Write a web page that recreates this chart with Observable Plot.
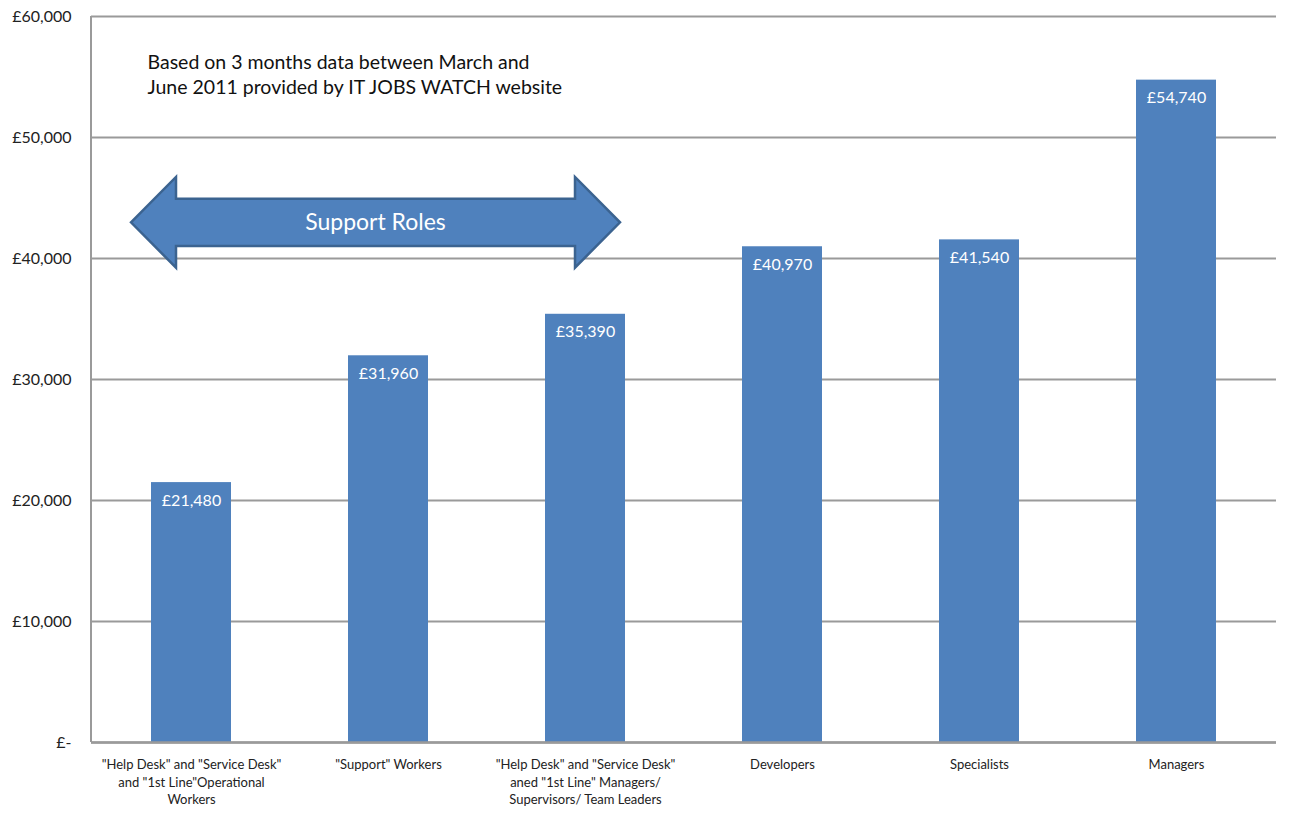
<!DOCTYPE html>
<html>
<head>
<meta charset="utf-8">
<script src="https://cdn.jsdelivr.net/npm/d3@7"></script>
<script src="https://cdn.jsdelivr.net/npm/@observablehq/plot@0.6"></script>
<style>
  html, body { margin: 0; padding: 0; background: #fff; }
  #chart svg { display: block; }
</style>
</head>
<body>
<div id="chart"></div>
<script>
const categories = [
  "\"Help Desk\" and \"Service Desk\"\nand \"1st Line\"Operational\nWorkers",
  "\"Support\" Workers",
  "\"Help Desk\" and \"Service Desk\"\naned \"1st Line\" Managers/\nSupervisors/ Team Leaders",
  "Developers",
  "Specialists",
  "Managers"
];
const salaries = [21480, 31960, 35390, 40970, 41540, 54740];
const yTicks = [0, 10000, 20000, 30000, 40000, 50000, 60000];
const noteLines = "Based on 3 months data between March and\nJune 2011 provided by IT JOBS WATCH website";
const arrowLabel = "Support Roles";
const arrowFrom = categories[0];
const arrowTo = categories[2];
// arrow vertical extents, in salary units: head top, shaft top, centre, shaft bottom, head bottom
const arrowLevels = [46700, 44900, 42950, 41000, 39200];

const data = categories.map((c, i) => ({category: c, salary: salaries[i]}));

const fmtMoney = d => d === 0 ? "£-" : "£" + d3.format(",")(d);

const BLUE = "#4f81bd";
const BORDER = "#3b6390";
const GRID = "#9a9a9a";
const FONT = "Lato, 'Open Sans', sans-serif";

function leftAxisLine(index, scales, values, dimensions) {
  const {marginLeft, marginTop, height, marginBottom} = dimensions;
  return d3.create("svg:line")
    .attr("x1", marginLeft).attr("x2", marginLeft)
    .attr("y1", marginTop).attr("y2", height - marginBottom)
    .attr("stroke", GRID).attr("stroke-width", 2)
    .node();
}

function arrowMark(index, scales, values, dimensions) {
  const x = scales.x, y = scales.y;
  const bw = x.bandwidth ? x.bandwidth() : 80;
  const left = x(arrowFrom);
  const right = x(arrowTo) + bw;
  const tipL = left - 20, shaftL = left + 25;
  const tipR = right - 5, shaftR = right - 50;
  const [hT, sT, mid, sB, hB] = arrowLevels.map(v => y(v));
  const pts = [
    [tipL, mid], [shaftL, hT], [shaftL, sT], [shaftR, sT], [shaftR, hT],
    [tipR, mid], [shaftR, hB], [shaftR, sB], [shaftL, sB], [shaftL, hB]
  ];
  const g = d3.create("svg:g");
  g.append("path")
    .attr("d", "M" + pts.map(p => p.join(",")).join("L") + "Z")
    .attr("fill", BLUE)
    .attr("stroke", BORDER)
    .attr("stroke-width", 2.5)
    .attr("stroke-linejoin", "miter");
  g.append("text")
    .attr("x", (tipL + tipR) / 2)
    .attr("y", mid)
    .attr("dy", "0.35em")
    .attr("text-anchor", "middle")
    .attr("fill", "#fff")
    .attr("font-size", 23)
    .attr("font-family", FONT)
    .text(arrowLabel);
  return g.node();
}

const plot = Plot.plot({
  width: 1290,
  height: 813,
  marginTop: 16,
  marginBottom: 71,
  marginLeft: 91,
  marginRight: 14,
  style: {fontFamily: FONT, background: "#fff"},
  x: {domain: categories, paddingInner: 0.595, paddingOuter: 0.2975, label: null},
  y: {domain: [0, 60000], label: null},
  marks: [
    Plot.gridY(yTicks, {stroke: GRID, strokeOpacity: 1, strokeWidth: 2}),
    Plot.barY(data, {x: "category", y: "salary", fill: BLUE}),
    leftAxisLine,
    Plot.ruleY([0], {stroke: GRID, strokeWidth: 2.5}),
    Plot.axisY(yTicks, {
      tickFormat: fmtMoney, tickSize: 0, tickPadding: 20,
      fontSize: 16, fill: "#222", label: null
    }),
    Plot.axisX({
      tickSize: 0, tickPadding: 14, fontSize: 13, fill: "#222",
      lineHeight: 1.35, label: null
    }),
    Plot.text(data, {
      x: "category", y: "salary", text: d => fmtMoney(d.salary),
      dy: 18, fill: "#fff", fontSize: 16
    }),
    Plot.text([noteLines], {
      frameAnchor: "top-left", dx: 56, dy: 35, text: d => d,
      fontSize: 19.5, fill: "#111", lineHeight: 1.28, lineAnchor: "top"
    }),
    arrowMark
  ]
});

document.getElementById("chart").appendChild(plot);
</script>
</body>
</html>
